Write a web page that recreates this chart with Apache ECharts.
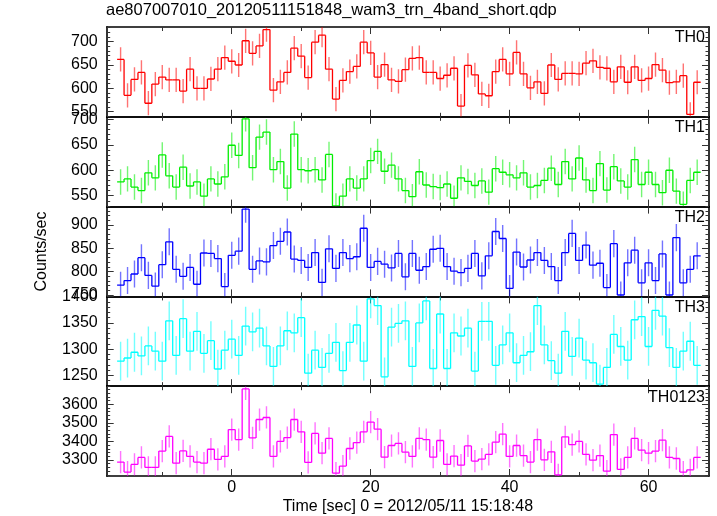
<!DOCTYPE html>
<html><head><meta charset="utf-8">
<script src="https://cdn.jsdelivr.net/npm/echarts@6/dist/echarts.min.js"></script>
<style>html,body{margin:0;padding:0;background:#fff}#c{width:717px;height:516px}</style>
</head><body><div id="c"></div>
<script>
const chartTitle = 'ae807007010_20120511151848_wam3_trn_4band_short.qdp';
const xTitle = 'Time [sec] 0 = 2012/05/11 15:18:48';
const yTitle = 'Counts/sec';
const panelNames = ['TH0', 'TH1', 'TH2', 'TH3', 'TH0123'];
const binWidth = 1;
const timeBins = [-16,-15,-14,-13,-12,-11,-10,-9,-8,-7,-6,-5,-4,-3,-2,-1,0,1,2,3,4,5,6,7,8,9,10,11,12,13,14,15,16,17,18,19,20,21,22,23,24,25,26,27,28,29,30,31,32,33,34,35,36,37,38,39,40,41,42,43,44,45,46,47,48,49,50,51,52,53,54,55,56,57,58,59,60,61,62,63,64,65,66,67];
const th0 = [662,585,619,634,568,609,624,618,618,594,641,600,600,620,641,666,658,650,702,675,691,726,596,614,634,686,669,623,699,714,641,577,617,636,647,699,676,624,651,618,615,640,664,666,634,634,621,628,643,562,649,629,588,584,636,662,631,677,631,601,614,589,650,619,632,632,631,654,659,645,643,614,646,613,646,617,621,651,639,612,614,627,544,613];
const th1 = [577,583,567,560,595,585,630,589,567,606,569,577,549,583,573,587,649,629,701,605,665,675,601,617,565,671,601,599,601,581,631,530,549,583,565,583,619,637,598,610,583,560,548,597,571,568,566,573,545,585,578,570,579,557,603,596,591,585,595,567,570,580,604,572,617,583,624,581,560,613,561,607,579,567,621,572,596,572,556,600,559,533,580,596];
const th2 = [771,781,795,830,792,769,815,864,805,790,809,773,840,839,828,768,835,844,934,805,823,821,856,865,885,827,824,809,841,777,849,807,841,828,832,893,809,822,816,808,839,789,839,803,811,848,850,811,801,798,807,839,791,834,886,871,764,842,810,825,841,824,811,781,841,882,824,857,814,818,766,860,750,819,846,776,819,781,838,750,873,776,805,834];
const th3 = [1277,1283,1294,1287,1306,1296,1277,1354,1288,1358,1296,1334,1292,1316,1262,1298,1319,1288,1344,1333,1340,1306,1267,1306,1335,1331,1360,1254,1298,1265,1292,1313,1259,1313,1346,1277,1396,1383,1247,1342,1349,1354,1267,1350,1392,1263,1367,1263,1331,1325,1340,1258,1353,1353,1269,1308,1331,1274,1288,1295,1383,1308,1278,1254,1334,1286,1321,1279,1274,1233,1265,1328,1305,1279,1356,1362,1305,1374,1363,1303,1265,1296,1315,1269];
const th0123 = [3289,3235,3276,3314,3260,3260,3348,3427,3283,3349,3319,3289,3283,3358,3303,3319,3464,3410,3683,3419,3518,3529,3319,3400,3421,3518,3452,3287,3443,3337,3416,3229,3267,3362,3394,3452,3504,3466,3315,3378,3389,3342,3319,3416,3410,3315,3405,3276,3321,3272,3376,3294,3305,3330,3396,3439,3319,3378,3324,3289,3410,3301,3344,3220,3425,3383,3400,3330,3299,3324,3240,3437,3249,3314,3416,3353,3337,3348,3407,3314,3308,3235,3247,3314];
const errors = [26, 25, 29, 37, 60];
const yMins = [538.9, 528.6, 747, 1229.2, 3213.8];
const yMaxs = [731.5, 704.9, 939.4, 1400.6, 3697.5];
const yMajorTicks = [[550,600,650,700],[550,600,650,700],[750,800,850,900],[1250,1300,1350,1400],[3300,3400,3500,3600]];
const yMinorSteps = [10, 10, 10, 10, 20];
const xMajorTicks = [0, 20, 40, 60];
const xMinorTicks = [-10, 10, 30, 50];
const xMin = -18, xMax = 68.7;

const seriesValues = [th0, th1, th2, th3, th0123];
const colors = ['#ff0000', '#00ee00', '#0000ff', '#00ffff', '#ff00ff'];
const FONT = '"Liberation Sans", Helvetica, Arial, sans-serif';
const GRID_LEFT = 106.7, GRID_RIGHT = 8, GRID_TOP = 27, PANEL_H = 89.8;
const FRAME = {show: true, onZero: false, lineStyle: {color: '#000', width: 1.6}};
const NOLINE = {show: false, onZero: false};
const TICKC = '#333';
const plain = v => String(v);

function minorList(i) {
  const out = [];
  const step = yMinorSteps[i];
  const start = Math.ceil(yMins[i] / step) * step;
  for (let v = start; v < yMaxs[i]; v += step) {
    if (yMajorTicks[i].indexOf(v) < 0) out.push(v);
  }
  return out;
}

const grids = [], xAxes = [], yAxes = [], series = [];
seriesValues.forEach((vals, i) => {
  grids.push({left: GRID_LEFT, right: GRID_RIGHT, top: GRID_TOP + i * PANEL_H, height: PANEL_H, containLabel: false, outerBoundsMode: 'none'});
  const last = i === seriesValues.length - 1;
  const xb = {gridIndex: i, type: 'value', min: xMin, max: xMax, splitLine: {show: false}};
  xAxes.push(Object.assign({}, xb, {position: 'bottom', axisLine: FRAME,
    axisTick: {show: true, inside: true, length: 7, customValues: xMajorTicks, lineStyle: {color: TICKC, width: 1}},
    axisLabel: {show: last, customValues: xMajorTicks, formatter: plain, fontSize: 16, color: '#000', fontFamily: FONT, margin: 4},
    name: last ? xTitle : '', nameLocation: 'middle', nameGap: 23,
    nameTextStyle: {fontSize: 16, color: '#000', fontFamily: FONT}}));
  xAxes.push(Object.assign({}, xb, {position: 'bottom', axisLine: NOLINE,
    axisTick: {show: true, inside: true, length: 4, customValues: xMinorTicks, lineStyle: {color: TICKC, width: 1}},
    axisLabel: {show: false}}));
  xAxes.push(Object.assign({}, xb, {position: 'top', axisLine: FRAME,
    axisTick: {show: true, inside: true, length: 7, customValues: xMajorTicks, lineStyle: {color: TICKC, width: 1}},
    axisLabel: {show: false}}));
  xAxes.push(Object.assign({}, xb, {position: 'top', axisLine: NOLINE,
    axisTick: {show: true, inside: true, length: 4, customValues: xMinorTicks, lineStyle: {color: TICKC, width: 1}},
    axisLabel: {show: false}}));
  const yb = {gridIndex: i, type: 'value', min: yMins[i], max: yMaxs[i], splitLine: {show: false}};
  const minors = minorList(i);
  yAxes.push(Object.assign({}, yb, {position: 'left', axisLine: FRAME,
    axisTick: {show: true, inside: true, length: 7, customValues: yMajorTicks[i], lineStyle: {color: TICKC, width: 1}},
    axisLabel: {show: true, customValues: yMajorTicks[i], formatter: plain, fontSize: 16, color: '#000', fontFamily: FONT, margin: 9},
    name: i === 2 ? yTitle : '', nameLocation: 'middle', nameGap: 57, nameRotate: 90,
    nameTextStyle: {fontSize: 16, color: '#000', fontFamily: FONT}}));
  yAxes.push(Object.assign({}, yb, {position: 'left', axisLine: NOLINE,
    axisTick: {show: true, inside: true, length: 3.5, customValues: minors, lineStyle: {color: TICKC, width: 1}},
    axisLabel: {show: false}}));
  yAxes.push(Object.assign({}, yb, {position: 'right', axisLine: FRAME,
    axisTick: {show: true, inside: true, length: 7, customValues: yMajorTicks[i], lineStyle: {color: TICKC, width: 1}},
    axisLabel: {show: false}}));
  yAxes.push(Object.assign({}, yb, {position: 'right', axisLine: NOLINE,
    axisTick: {show: true, inside: true, length: 3.5, customValues: minors, lineStyle: {color: TICKC, width: 1}},
    axisLabel: {show: false}}));

  const color = colors[i];
  const err = errors[i];
  series.push({
    type: 'custom', xAxisIndex: 4 * i, yAxisIndex: 4 * i, clip: true, silent: true,
    data: timeBins.map((t, k) => [t, vals[k]]),
    renderItem: function (params, api) {
      const k = params.dataIndex;
      const t = api.value(0), v = api.value(1);
      const a = api.coord([t - binWidth / 2, v]);
      const b = api.coord([t + binWidth / 2, v]);
      const hi = api.coord([t, v + err]);
      const lo = api.coord([t, v - err]);
      const kids = [
        {type: 'line', shape: {x1: hi[0], y1: hi[1], x2: lo[0], y2: lo[1]}, style: {stroke: color, lineWidth: 1.4, opacity: 0.55}},
        {type: 'line', shape: {x1: a[0], y1: a[1], x2: b[0], y2: b[1]}, style: {stroke: color, lineWidth: 1.3}}
      ];
      if (k > 0) {
        const p = api.coord([t - binWidth / 2, vals[k - 1]]);
        kids.push({type: 'line', shape: {x1: a[0], y1: p[1], x2: a[0], y2: a[1]}, style: {stroke: color, lineWidth: 1.3}});
      }
      const cs = params.coordSys;
      return {type: 'group', children: kids,
        clipPath: {type: 'rect', shape: {x: cs.x, y: cs.y, width: cs.width, height: cs.height}}};
    }
  });
});

const titles = [{text: chartTitle, left: 106, top: 2, padding: 0,
  textStyle: {fontSize: 16.5, fontWeight: 'normal', color: '#000', fontFamily: FONT}}];
panelNames.forEach((n, i) => titles.push({text: n, right: 12, top: GRID_TOP + i * PANEL_H + 3, padding: 0,
  textStyle: {fontSize: 16, fontWeight: 'normal', color: '#000', fontFamily: FONT}}));

const chart = echarts.init(document.getElementById('c'), null, {renderer: 'canvas'});
chart.setOption({
  backgroundColor: '#fff',
  animation: false,
  title: titles,
  grid: grids,
  xAxis: xAxes,
  yAxis: yAxes,
  series: series
});
</script>
</body></html>
